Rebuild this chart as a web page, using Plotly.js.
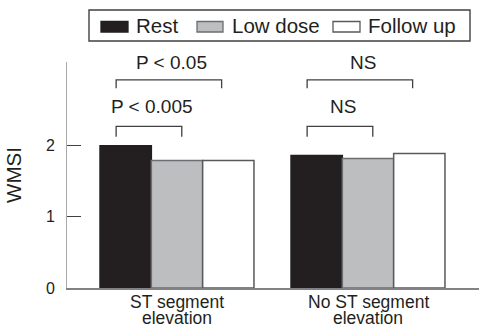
<!DOCTYPE html>
<html>
<head>
<meta charset="utf-8">
<script src="https://cdn.plot.ly/plotly-3.0.1.min.js"></script>
<style>html,body{margin:0;padding:0;background:#fff;}#chart{width:479px;height:328px;}</style>
</head>
<body>
<div id="chart"></div>
<script>
// ---- data ----
const categories = ['ST segment elevation', 'No ST segment elevation'];
const catLine1 = ['ST segment', 'No ST segment'];
const catLine2 = ['elevation', 'elevation'];
const seriesNames = ['Rest', 'Low dose', 'Follow up'];
const rest = [2.00, 1.86];
const lowDose = [1.79, 1.82];
const followUp = [1.79, 1.89];
const yTickVals = [0, 1, 2];
const yTickText = ['0', '1', '2'];
// comparisons: [category index, from series, to series, label]
const comparisons = [
  [0, 0, 2, 'P < 0.05'],
  [0, 0, 1, 'P < 0.005'],
  [1, 0, 2, 'NS'],
  [1, 0, 1, 'NS']
];

// ---- style ----
const W = 479, H = 328;
const M = {l: 67, r: 0, t: 62, b: 40};
const PW = W - M.l - M.r, PH = H - M.t - M.b;
const font = 'Liberation Sans, Arial, Helvetica, sans-serif';
const ink = '#231f20';
const fills = ['#231f20', '#bcbec0', '#ffffff'];
const outlines = ['#231f20', '#6d6e71', '#58595b'];
const bargap = 0.194;
const yMax = 3.175;
const px2x = p => (p - M.l) / PW;
const px2y = p => (H - M.b - p) / PH;

const values = [rest, lowDose, followUp];
const traces = values.map((v, i) => ({
  type: 'bar', x: categories, y: v, name: seriesNames[i],
  marker: {color: fills[i], line: {color: outlines[i], width: 1.5}},
  showlegend: false, hoverinfo: 'x+y'
}));

// bar offsets within a group (category units)
const barW = (1 - bargap) / values.length;
const off = k => (k - (values.length - 1) / 2) * barW;

const shapes = [];
const annotations = [];

// brackets
comparisons.forEach(([c, a, b, label]) => {
  const upper = (b === 2);
  const yTop = upper ? 2.925 : 2.272;
  const yBot = upper ? 2.806 : 2.125;
  const yLab = upper ? 3.164 : 2.553;
  const x0 = c + off(a) - 0.05;
  const x1 = c + off(b) + (upper ? -0.035 : 0.025);
  shapes.push({type: 'path', xref: 'x', yref: 'y',
    path: `M${x0},${yBot} L${x0},${yTop} L${x1},${yTop} L${x1},${yBot}`,
    line: {color: '#414042', width: 1.3}});
  annotations.push({xref: 'x', yref: 'y', x: (x0 + x1) / 2 + 0.015, y: yLab,
    text: label, showarrow: false, xanchor: 'center', yanchor: 'middle',
    font: {family: font, size: 19, color: ink}});
});

// category labels (two lines)
categories.forEach((c, i) => {
  annotations.push({xref: 'x', yref: 'paper', x: i, y: px2y(301.5), text: catLine1[i],
    showarrow: false, xanchor: 'center', yanchor: 'middle', borderpad: 0,
    font: {family: font, size: 17.5, color: ink}});
  annotations.push({xref: 'x', yref: 'paper', x: i, y: px2y(318), text: catLine2[i],
    showarrow: false, xanchor: 'center', yanchor: 'middle', borderpad: 0,
    font: {family: font, size: 17.5, color: ink}});
});

// legend (manual, boxed)
shapes.push({type: 'rect', xref: 'paper', yref: 'paper',
  x0: px2x(89), x1: px2x(470), y0: px2y(41), y1: px2y(10),
  line: {color: '#414042', width: 1.4}, fillcolor: '#fff'});
const legX = [101, 197, 333];
const legSwW = [27, 26, 27];
const legTextX = [135, 231, 367];
seriesNames.forEach((n, i) => {
  shapes.push({type: 'rect', xref: 'paper', yref: 'paper',
    x0: px2x(legX[i]), x1: px2x(legX[i] + legSwW[i]), y0: px2y(32), y1: px2y(21.5),
    fillcolor: fills[i], line: {color: outlines[i], width: 1.3}});
  annotations.push({xref: 'paper', yref: 'paper', x: px2x(legTextX[i]), y: px2y(25.5),
    text: n, showarrow: false, xanchor: 'left', yanchor: 'middle', borderpad: 0,
    font: {family: font, size: 20.5, color: ink}});
});

const layout = {
  width: W, height: H, margin: M,
  paper_bgcolor: '#fff', plot_bgcolor: '#fff',
  barmode: 'group', bargap: bargap, bargroupgap: 0,
  showlegend: false,
  font: {family: font, color: ink},
  xaxis: {type: 'category', range: [-(177 - M.l) / 191, -(177 - M.l) / 191 + PW / 191],
    showline: true, linecolor: '#808285', linewidth: 1.5, ticks: '', showticklabels: false,
    showgrid: false, zeroline: false, fixedrange: true},
  yaxis: {range: [0, yMax], tickvals: yTickVals, ticktext: yTickText,
    ticks: 'inside', ticklen: 14, tickwidth: 1.3, tickcolor: '#414042',
    showline: true, linecolor: '#a7a9ac', linewidth: 1,
    showgrid: false, zeroline: false,
    tickfont: {family: font, size: 16, color: ink}, ticklabelstandoff: 8,
    title: {text: 'WMSI', font: {family: font, size: 20.5, color: ink}, standoff: 18},
    fixedrange: true},
  shapes: shapes, annotations: annotations
};

Plotly.newPlot('chart', traces, layout, {displayModeBar: false, staticPlot: true});
</script>
</body>
</html>
